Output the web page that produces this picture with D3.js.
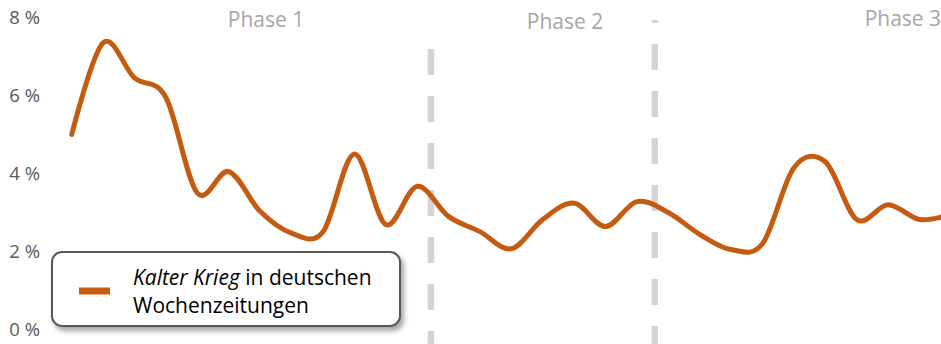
<!DOCTYPE html>
<html>
<head>
<meta charset="utf-8">
<script src="https://cdn.jsdelivr.net/npm/d3@7"></script>
<style>
  html, body { margin: 0; padding: 0; background: #fff; }
  svg { display: block; font-family: "Open Sans", "Noto Sans", sans-serif; }
</style>
</head>
<body>
<div class="container"></div>
<script>
// share of "Kalter Krieg" mentions, one value per period
const values = [5.0, 7.35, 6.45, 5.95, 3.5, 4.05, 3.03, 2.47, 2.5, 4.5, 2.69, 3.67, 2.9, 2.51, 2.07,
    2.82, 3.24, 2.64, 3.28, 3.0, 2.44, 2.05, 2.2, 4.15, 4.3, 2.82, 3.2, 2.82, 2.95];
const yTicks = [0, 2, 4, 6, 8];
// phase boundaries, in period index units
const phaseBreaks = [11.44, 18.57];
const phaseNames = ["Phase 1", "Phase 2", "Phase 3"];
const phaseCenters = [6.19, 15.71, 26.47];

const width = 941, height = 344;

const svg = d3.select("div.container").append("svg")
    .attr("width", width)
    .attr("height", height);

const x = d3.scaleLinear().domain([0, 27]).range([71.7, 919.5]);
const y = d3.scaleLinear().domain([0, 8]).range([329.5, 17.5]);

//shadow for the legend box
const defs = svg.append("defs");
defs.append("filter")
    .attr("id", "shadow")
    .attr("x", "-10%").attr("y", "-20%")
    .attr("width", "130%").attr("height", "160%")
    .append("feDropShadow")
    .attr("dx", 3).attr("dy", 4)
    .attr("stdDeviation", 2.5)
    .attr("flood-color", "#000")
    .attr("flood-opacity", 0.35);

//y axis labels
const yAxis = d3.axisLeft(y)
    .tickValues(yTicks)
    .tickSize(0)
    .tickPadding(0)
    .tickFormat(d => `${d} %`);

svg.append("g")
    .attr("transform", "translate(40,0)")
    .call(yAxis)
    .call(g => g.select(".domain").remove())
    .selectAll("text")
    .attr("fill", "#595959")
    .style("font-size", "18.5px")
    .style("font-family", "'Open Sans', sans-serif");

//dashed phase separators
svg.selectAll("line.phase")
    .data(phaseBreaks)
    .enter()
    .append("line")
    .attr("class", "phase")
    .attr("x1", d => x(d))
    .attr("x2", d => x(d))
    .attr("y1", (d, i) => i === 0 ? 49 : 20)
    .attr("y2", height)
    .attr("stroke", "#d4d4d4")
    .attr("stroke-width", 6.5)
    .attr("stroke-dasharray", "26,21")
    .attr("stroke-dashoffset", (d, i) => i === 0 ? 0 : 23);

//phase titles
svg.selectAll("text.phaseName")
    .data(phaseNames)
    .enter()
    .append("text")
    .attr("class", "phaseName")
    .attr("x", (d, i) => x(phaseCenters[i]))
    .attr("y", (d, i) => [27, 29, 26][i])
    .attr("text-anchor", "middle")
    .attr("fill", "#a6a6a6")
    .style("font-size", "21px")
    .text(d => d);

//the smoothed series
const line = d3.line()
    .x((d, i) => x(i))
    .y(d => y(d))
    .curve(d3.curveCatmullRom.alpha(0));

svg.append("path")
    .datum(values)
    .attr("d", line)
    .attr("fill", "none")
    .attr("stroke", "#c55a11")
    .attr("stroke-width", 5)
    .attr("stroke-linejoin", "round")
    .attr("stroke-linecap", "round");

//legend
const legend = svg.append("g").attr("id", "legend");

legend.append("rect")
    .attr("x", 52).attr("y", 252)
    .attr("width", 348).attr("height", 74)
    .attr("rx", 10).attr("ry", 10)
    .attr("fill", "#fff")
    .attr("stroke", "#595959")
    .attr("stroke-width", 2)
    .attr("filter", "url(#shadow)");

legend.append("line")
    .attr("x1", 79).attr("x2", 110)
    .attr("y1", 291).attr("y2", 291)
    .attr("stroke", "#c55a11")
    .attr("stroke-width", 7);

const legendText = legend.append("text")
    .attr("x", 133)
    .attr("y", 285)
    .attr("fill", "#000")
    .style("font-size", "21px");
legendText.append("tspan").style("font-style", "italic").text("Kalter Krieg");
legendText.append("tspan").text(" in deutschen");

legend.append("text")
    .attr("x", 133)
    .attr("y", 313)
    .attr("fill", "#000")
    .style("font-size", "21px")
    .text("Wochenzeitungen");
</script>
</body>
</html>
